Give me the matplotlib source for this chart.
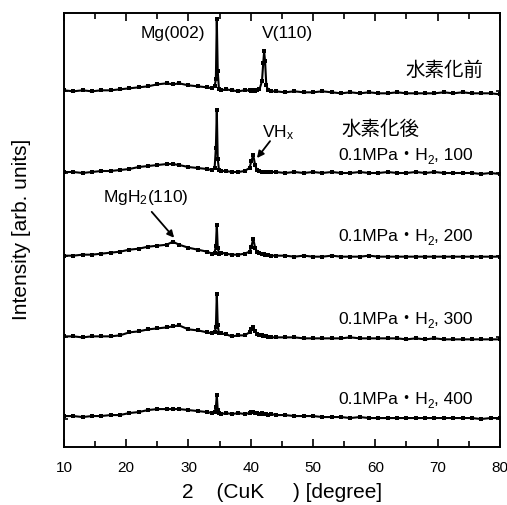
import matplotlib
matplotlib.use('Agg')
import matplotlib.pyplot as plt
from matplotlib.ticker import MultipleLocator

plt.rcParams.update({
    'font.family': ['Liberation Sans', 'Noto Sans CJK JP', 'DejaVu Sans'],
    'mathtext.fontset': 'custom',
    'mathtext.rm': 'Liberation Sans',
    'mathtext.it': 'Liberation Sans',
    'axes.linewidth': 1.4,
})

# ── 2θ grid (deg) and intensities (arb., baseline = 0) ──
two_theta = [10, 11.5, 13, 14.5, 16, 17.5, 19, 20.5, 22, 23.5,
             25, 26.5, 27.5, 28.5, 30, 31.5, 33, 33.8, 34.2, 34.4,
             34.55, 34.7, 34.9, 35.3, 36, 37, 38, 39, 39.8, 40.1,
             40.4, 40.7, 41.0, 41.4, 41.8, 42.0, 42.15, 42.3, 42.5, 42.8,
             43.3, 44, 45.5, 47, 48.5, 50, 51.5, 53, 54.5, 56,
             57.5, 59, 60.5, 62, 63.5, 65, 66.5, 68, 69.5, 71,
             72.5, 74, 75.5, 77, 78.5, 80]

before = [1, 0, 1, 0, 1, 1, 2, 3, 4, 5,
          7, 8, 7, 8, 6, 5, 4, 3, 5, 12,
          73, 20, 2, 1, 2, 1, 0, 1, 1, 0,
          1, 0, 1, 2, 10, 28, 40, 30, 6, 1,
          0, 0, -1, 0, -1, -1, 0, -1, -2, -1,
          -2, -1, -2, -2, -1, -2, -2, -2, -2, -1,
          -2, -1, -2, -2, -2, -3]

h100 = [1, 1, 0, 1, 2, 2, 3, 4, 6, 7,
        8, 9, 9, 8, 6, 5, 4, 3, 5, 25,
        63, 14, 3, 2, 2, 1, 1, 2, 5, 12,
        18, 8, 3, 2, 1, 1, 1, 1, 1, 1,
        1, 1, 0, 1, 0, 1, 0, 1, 0, 0,
        1, 0, 0, 1, 0, 0, 1, 0, 1, 0,
        0, 0, 0, -1, 0, -1]

h200 = [0, 0, 1, 1, 2, 3, 4, 6, 7, 9,
        10, 11, 14, 11, 8, 6, 4, 2, 3, 10,
        31, 8, 2, 3, 2, 1, 1, 2, 4, 9,
        17, 8, 4, 3, 2, 2, 2, 1, 1, 1,
        0, 0, 0, -1, 0, -1, -1, 0, -1, -1,
        -1, 0, -1, -1, -1, -1, -1, -1, -1, -1,
        -1, -1, -1, -1, -1, -1]

h300 = [1, 1, 0, 1, 1, 1, 2, 5, 6, 8,
        9, 10, 11, 12, 8, 7, 5, 4, 5, 10,
        44, 12, 4, 4, 3, 1, 2, 2, 5, 8,
        10, 6, 3, 2, 2, 1, 1, 1, 1, 0,
        0, 0, 0, 0, -1, -1, -1, -1, -1, 0,
        -1, -1, -1, -1, -1, -2, -1, -2, -1, -2,
        -2, -2, -2, -2, -2, -2]

h400 = [3, 3, 2, 3, 3, 4, 4, 6, 7, 9,
        10, 10, 10, 10, 9, 8, 7, 6, 7, 12,
        24, 9, 6, 5, 6, 5, 6, 5, 6, 7,
        7, 6, 6, 5, 6, 5, 5, 5, 5, 4,
        5, 4, 4, 3, 3, 3, 2, 2, 2, 1,
        2, 1, 1, 1, 1, 1, 1, 1, 1, 1,
        1, 1, 1, 0, 1, 1]

traces = [h400, h300, h200, h100, before]      # bottom -> top
offsets = [28, 110, 192, 275, 357]
conds = ['400', '300', '200', '100']

fig = plt.figure(figsize=(5.07, 5.05), dpi=100)
ax = fig.add_axes([0.126, 0.115, 0.860, 0.860])

for y, off in zip(traces, offsets):
    ax.plot(two_theta, [v + off for v in y], color='black', lw=1.5,
            marker='s', ms=2.6, mew=0)

ax.set_xlim(10, 80)
ax.set_ylim(0, 436)
ax.xaxis.set_major_locator(MultipleLocator(10))
ax.xaxis.set_minor_locator(MultipleLocator(5))
ax.set_yticks(offsets)
ax.set_yticklabels([])
ax.tick_params(which='both', direction='in', top=True, right=True, width=1.2)
ax.tick_params(axis='x', which='major', length=6, labelsize=11, pad=10)
ax.tick_params(axis='x', which='minor', length=4)
ax.tick_params(axis='y', length=3)

ax.set_xlabel('2    (CuK     ) [degree]', fontsize=15, labelpad=6)
ax.set_ylabel('Intensity [arb. units]', fontsize=15, labelpad=20)

fs = 12.5
ax.text(32.6, 415, 'Mg(002)', ha='right', va='center', fontsize=fs)
ax.text(41.8, 415, 'V(110)', ha='left', va='center', fontsize=fs)
ax.text(77.3, 378, '水素化前', ha='right', va='center', fontsize=14)
ax.text(54.6, 318, '水素化後', ha='left', va='center', fontsize=14)

ax.text(41.8, 316, r'VH$_\mathrm{x}$', ha='left', va='center', fontsize=fs)
ax.annotate('', xy=(41.0, 290), xytext=(43.1, 307),
            arrowprops=dict(arrowstyle='-|>', color='black', lw=1.3,
                            mutation_scale=10, shrinkA=0, shrinkB=0))
ax.text(16.3, 250, r'MgH$_2$(110)', ha='left', va='center', fontsize=fs)
ax.annotate('', xy=(27.7, 210), xytext=(24.1, 236),
            arrowprops=dict(arrowstyle='-|>', color='black', lw=1.3,
                            mutation_scale=10, shrinkA=0, shrinkB=0))

# condition labels: "0.1MPa・H2, T"
cond_y = [48, 128, 211, 293]
for c, yy in zip(conds, cond_y):
    t1 = ax.text(54.0, yy, '0.1MPa・H', ha='left', va='center', fontsize=fs)
    t2 = ax.annotate('2', xy=(1, 0), xycoords=t1, xytext=(0, -3),
                     textcoords='offset points', ha='left', va='bottom',
                     fontsize=8.5)
    ax.annotate(', ' + c, xy=(1, 0), xycoords=t2, xytext=(0, 3),
                textcoords='offset points', ha='left', va='bottom',
                fontsize=fs)

fig.savefig('out.png', dpi=100)
